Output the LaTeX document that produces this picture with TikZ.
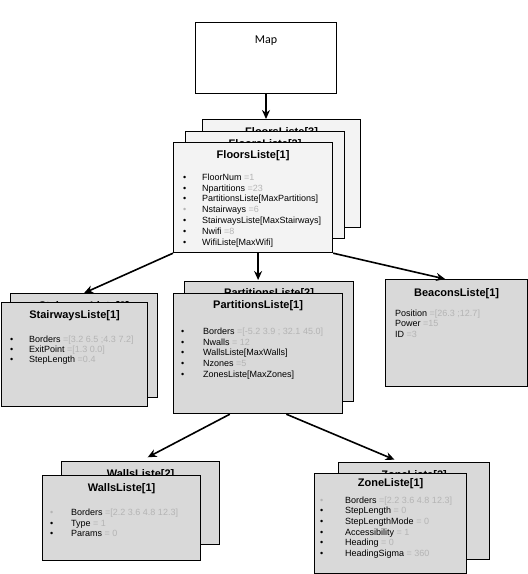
\documentclass[tikz,border=0pt]{standalone}
\usepackage{xcolor}
\usepackage{fontspec}
\setmainfont{Liberation Sans}
\newfontfamily\mapfont{Carlito}
\usepackage{tikz}
\usetikzlibrary{arrows.meta,
                positioning}
\definecolor{boxgray}{HTML}{D9D9D9}
\definecolor{lightbox}{HTML}{F3F3F3}
\definecolor{valgray}{HTML}{B4B4B4}
\tikzstyle{arrow} = [line width=1.6pt,-{Stealth[length=9pt,width=8pt]}]
\tikzstyle{listbox} = [draw, line width=1.2pt, fill=boxgray, anchor=north west, inner sep=0pt]
\tikzstyle{floorbox} = [listbox, fill=lightbox]
\tikzstyle{boxtitle} = [font=\fontsize{11}{13}\selectfont\bfseries, inner sep=0pt]
\tikzstyle{boxlist} = [font=\fontsize{9}{10.8}\selectfont, align=left, inner sep=0pt]
\newlength{\bulw}
\newcommand{\bulletwidth}[1]{\global\bulw=#1\relax}
\newcommand{\itm}[2]{\makebox[\bulw][l]{\textbullet}#1 \textcolor{valgray}{#2}}
\newcommand{\itmg}[2]{\makebox[\bulw][l]{\textcolor{valgray}{\textbullet}}#1 \textcolor{valgray}{#2}}
\newcommand{\val}[2]{#1 \textcolor{valgray}{#2}}

\begin{document}
\begin{tikzpicture}[x=1pt,y=-1pt]
    \useasboundingbox (0,0) rectangle (528,574);

    % map
    \node[draw, line width=1pt, fill=white, anchor=north west, minimum width=141pt, minimum height=71pt] (map) at (195,22) {};
    \node[font=\mapfont\fontsize{12}{14}\selectfont, inner sep=0pt] (maplbl) [below=14pt of map.north] {Map};

    % floors
    \node[floorbox, minimum width=158pt, minimum height=108pt] (fl3) at (202,119) {};
    \node[boxtitle] (fl3t) [below=8pt of fl3.north] {FloorsListe[3]};
    \node[floorbox, minimum width=159pt, minimum height=107pt] (fl2) at (185,131) {};
    \node[boxtitle] (fl2t) [below=8pt of fl2.north] {FloorsListe[2]};
    \node[floorbox, minimum width=159pt, minimum height=110pt] (fl1) at (173,142) {};
    \node[boxtitle] (fl1t) [below=8pt of fl1.north] {FloorsListe[1]};
    \bulletwidth{19pt}
    \node[boxlist] (fl1l) [below right=31.5pt and 10pt of fl1.north west] {%
        \itm{FloorNum}{=1}\\
        \itm{Npartitions}{=23}\\
        \itm{PartitionsListe[MaxPartitions]}{}\\
        \itmg{Nstairways}{=6}\\
        \itm{StairwaysListe[MaxStairways]}{}\\
        \itm{Nwifi}{=8}\\
        \itm{WifiListe[MaxWifi]}{}};

    % stairways
    \node[listbox, minimum width=147pt, minimum height=104pt] (st2) at (10,293) {};
    \node[boxtitle] (st2t) [below=8pt of st2.north] {StairwaysListe[2]};
    \node[listbox, minimum width=146pt, minimum height=104pt] (st1) at (1,302) {};
    \node[boxtitle] (st1t) [below=8pt of st1.north] {StairwaysListe[1]};
    \bulletwidth{19pt}
    \node[boxlist, font=\fontsize{9}{10}\selectfont] (st1l) [below right=33.5pt and 9pt of st1.north west] {%
        \itm{Borders}{=[3.2 6.5 ;4.3 7.2]}\\
        \itm{ExitPoint}{=[1.3 0.0]}\\
        \itm{StepLength}{=0.4}};

    % partitions
    \node[listbox, minimum width=169pt, minimum height=120pt] (pa2) at (184,281) {};
    \node[boxtitle] (pa2t) [below=7pt of pa2.north] {PartitionsListe[2]};
    \node[listbox, minimum width=169pt, minimum height=120pt] (pa1) at (173,293) {};
    \node[boxtitle] (pa1t) [below=7pt of pa1.north] {PartitionsListe[1]};
    \bulletwidth{22pt}
    \node[boxlist] (pa1l) [below right=34.5pt and 8pt of pa1.north west] {%
        \itm{Borders}{=[-5.2 3.9 ; 32.1 45.0]}\\
        \itm{Nwalls}{= 12}\\
        \itm{WallsListe[MaxWalls]}{}\\
        \itm{Nzones}{=5}\\
        \itm{ZonesListe[MaxZones]}{}};

    % beacons
    \node[listbox, minimum width=142pt, minimum height=107pt] (be1) at (385,279) {};
    \node[boxtitle] (be1t) [below=9pt of be1.north] {BeaconsListe[1]};
    \node[boxlist, font=\fontsize{9}{10.5}\selectfont] (be1l) [below right=30.5pt and 10pt of be1.north west] {%
        \val{Position}{=[26.3 ;12.7]}\\
        \val{Power}{=15}\\
        \val{ID}{=3}};

    % walls
    \node[listbox, minimum width=158pt, minimum height=83pt] (wa2) at (61,461) {};
    \node[boxtitle] (wa2t) [below=8pt of wa2.north] {WallsListe[2]};
    \node[listbox, minimum width=158pt, minimum height=85pt] (wa1) at (42,475) {};
    \node[boxtitle] (wa1t) [below=8pt of wa1.north] {WallsListe[1]};
    \bulletwidth{21pt}
    \node[boxlist] (wa1l) [below right=33.5pt and 8pt of wa1.north west] {%
        \itmg{Borders}{=[2.2 3.6 4.8 12.3]}\\
        \itm{Type}{= 1}\\
        \itm{Params}{= 0}};

    % zones
    \node[listbox, minimum width=151pt, minimum height=97pt] (zo2) at (338,462) {};
    \node[boxtitle] (zo2t) [below=8pt of zo2.north] {ZoneListe[2]};
    \node[listbox, minimum width=152pt, minimum height=100pt] (zo1) at (314,473) {};
    \node[boxtitle] (zo1t) [below=5pt of zo1.north] {ZoneListe[1]};
    \bulletwidth{25pt}
    \node[boxlist, font=\fontsize{9}{10.6}\selectfont] (zo1l) [below right=23.5pt and 6pt of zo1.north west] {%
        \itmg{Borders}{=[2.2 3.6 4.8 12.3]}\\
        \itm{StepLength}{= 0}\\
        \itm{StepLengthMode}{= 0}\\
        \itm{Accessibility}{= 1}\\
        \itm{Heading}{= 0}\\
        \itm{HeadingSigma}{= 360}};

    \draw [arrow] (map.south) -- (fl3.north -| map.south);
    \draw [arrow] (fl1.south west) -- (st2.north);
    \draw [arrow, shorten >=1pt] (fl1.south -| pa1.north) -- (pa2.north -| pa1.north);
    \draw [arrow] (fl1.south east) -- (be1.102);
    \draw [arrow, shorten >=8pt] (pa1.245) -- (wa2.north);
    \draw [arrow, shorten >=6pt] (pa1.295) -- (zo2.106);
\end{tikzpicture}
\end{document}
